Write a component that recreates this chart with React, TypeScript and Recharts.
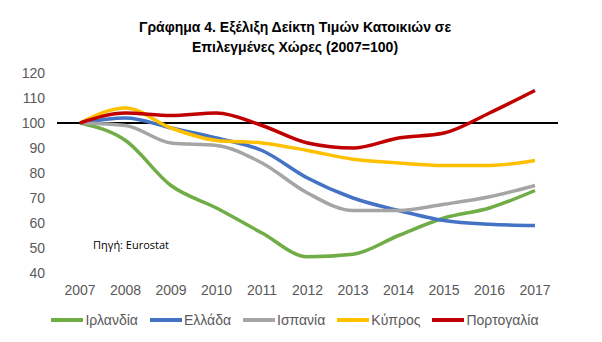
import { LineChart, Line, XAxis, YAxis, ReferenceLine } from 'recharts';

const years = ['2007', '2008', '2009', '2010', '2011', '2012', '2013', '2014', '2015', '2016', '2017'];
const ireland = [100, 93, 75, 66, 56, 46.5, 47.5, 55, 62, 66, 73];
const greece = [100, 102, 98, 94, 89, 78, 70, 65, 61, 59.5, 59];
const spain = [100, 99, 92, 91, 84, 72, 65, 65, 67.5, 70.5, 75];
const cyprus = [100, 106, 98, 93, 92, 89, 85.5, 84, 83, 83, 85];
const portugal = [100, 104, 103, 104, 99, 92, 90, 94, 96, 104, 113];
const yTicks = [40, 50, 60, 70, 80, 90, 100, 110, 120];

const series = [
  { key: 'ireland', name: 'Ιρλανδία', color: '#70AD47', values: ireland },
  { key: 'greece', name: 'Ελλάδα', color: '#4472C4', values: greece },
  { key: 'spain', name: 'Ισπανία', color: '#A5A5A5', values: spain },
  { key: 'cyprus', name: 'Κύπρος', color: '#FFC000', values: cyprus },
  { key: 'portugal', name: 'Πορτογαλία', color: '#C00000', values: portugal },
];

const data = years.map((year, i) => {
  const row: Record<string, string | number> = { year };
  series.forEach((s) => { row[s.key] = s.values[i]; });
  return row;
});

const font = '"Liberation Sans", Arial, sans-serif';

// legend drawn by hand so the plot keeps its full height
function LegendRow() {
  return (
    <div style={{ position: 'absolute', left: 0, top: 311, width: 602, display: 'flex', justifyContent: 'center',
      fontFamily: font, fontSize: 14, lineHeight: '18px', color: '#595959' }}>
      {series.map((s) => (
        <div key={s.key} style={{ display: 'flex', alignItems: 'center', marginRight: 12 }}>
          <div style={{ width: 32, height: 3.5, background: s.color, marginRight: 2 }} />
          <span>{s.name}</span>
        </div>
      ))}
    </div>
  );
}

export default function App() {
  return (
    <div style={{ position: 'absolute', left: 0, top: 0, width: 602, height: 342, background: '#fff' }}>
      <div style={{ position: 'absolute', left: 0, top: 17, width: 590, textAlign: 'center',
        fontFamily: font, fontWeight: 'bold', fontSize: 14, lineHeight: '20px', color: '#000' }}>
        Γράφημα 4. Εξέλιξη Δείκτη Τιμών Κατοικιών σε<br />Επιλεγμένες Χώρες (2007=100)
      </div>
      <LineChart width={602} height={342} data={data} margin={{ top: 73, right: 44, bottom: 39, left: 0 }}>
        <XAxis dataKey="year" axisLine={false} tickLine={false} padding={{ left: 23, right: 23 }} height={30}
               tickMargin={6} tick={{ fill: '#595959', fontSize: 14, fontFamily: font }} interval={0} />
        <YAxis domain={[40, 120]} ticks={yTicks} axisLine={false} tickLine={false} width={57} interval={0}
               tickMargin={6} tick={{ fill: '#595959', fontSize: 14, fontFamily: font }} />
        <ReferenceLine y={100} stroke="#000" strokeWidth={2} />
        {series.map((s) => (
          <Line key={s.key} type="monotone" dataKey={s.key} name={s.name} stroke={s.color}
                strokeWidth={3.5} dot={false} isAnimationActive={false} />
        ))}
      </LineChart>
      <div style={{ position: 'absolute', left: 93, top: 237, fontFamily: '"Open Sans", sans-serif', fontSize: 11, color: '#000' }}>
        Πηγή: Eurostat
      </div>
      <LegendRow />
    </div>
  );
}
